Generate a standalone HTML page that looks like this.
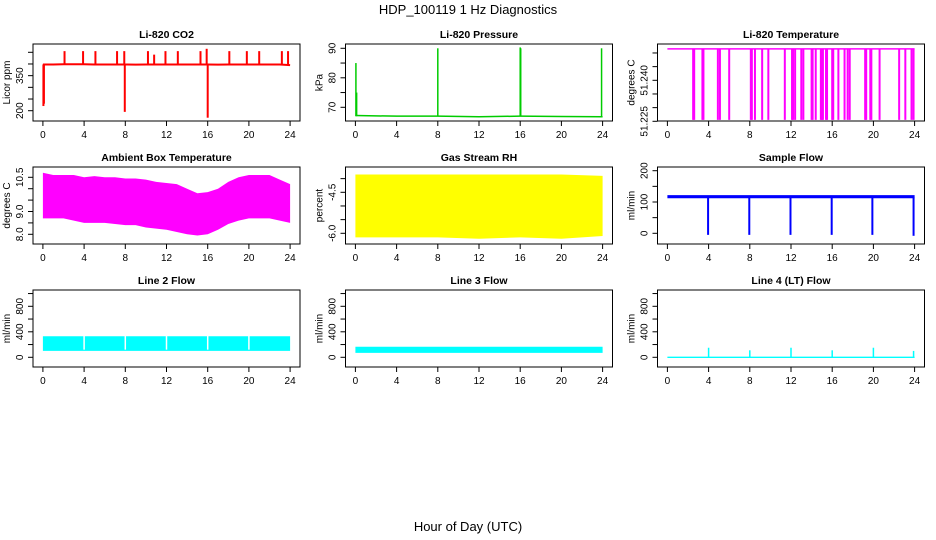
<!DOCTYPE html>
<html><head><meta charset="utf-8"><style>
body{margin:0;background:#fff}
svg{display:block;font-family:"Liberation Sans",sans-serif}
</style></head><body>
<svg id="c" width="936" height="540" viewBox="0 0 936 540" xmlns="http://www.w3.org/2000/svg">
<text x="468" y="14" text-anchor="middle" font-size="13">HDP_100119  1 Hz Diagnostics</text>
<text x="468" y="531" text-anchor="middle" font-size="13">Hour of Day (UTC)</text>
</svg>
<script>
// ---- data ----
const hourTicks = [0,4,8,12,16,20,24];
const co2Hours = [0,1,2,3,4,5,6,7,8,9,10,11,12,13,14,15,16,17,18,19,20,21,22,23,24];
const co2Base = [398,398,399,399,399,398,398,398,398,397,398,398,398,398,398,398,398,397,398,398,398,398,398,398,395];
const co2SpikeT = [0.05,0.1,2.1,3.9,5.1,7.2,7.9,7.95,10.2,10.8,11.9,13.1,15.3,15.9,16.0,18.1,19.8,21.0,23.2,23.8];
const co2SpikeV = [220,230,455,455,455,455,455,195,455,440,455,455,455,465,170,455,455,455,455,455];
const co2Ticks = [200,250,300,350,400,450];
const co2Labels = ["200","350"];
const presHours = [0,4,8,12,16,20,24];
const presBase = [67.2,67,67,66.8,67,66.9,66.8];
const presSpikeT = [0.05,0.12,8.0,16.0,16.05,23.9];
const presSpikeV = [85,75,90,90.3,90,90];
const presTicks = [70,75,80,85,90];
const presLabels = ["70","80","90"];
const tempTop = 51.2515;
const tempDropT = [2.5,2.6,3.4,3.5,4.9,5.1,6.0,8.1,8.2,8.5,9.2,9.8,11.4,12.1,12.2,12.4,13.0,13.2,14.0,14.1,14.4,14.9,15.0,15.1,15.4,15.5,16.0,16.1,16.6,17.2,17.5,17.7,19.2,19.3,19.7,19.8,20.6,22.5,23.1,23.7,23.9];
const tempDropV = 51.2255;
const tempTicks = [51.225,51.230,51.235,51.240,51.245,51.250];
const tempLabels = ["51.225","51.240"];
const ambHours = [0,1,2,3,4,5,6,7,8,9,10,11,12,13,14,15,16,17,18,19,20,21,22,23,24];
const ambUpper = [10.7,10.6,10.6,10.6,10.5,10.55,10.5,10.5,10.45,10.45,10.4,10.3,10.25,10.2,10.0,9.8,9.85,10.0,10.3,10.5,10.6,10.6,10.6,10.4,10.2];
const ambLower = [8.7,8.7,8.7,8.6,8.5,8.5,8.5,8.45,8.4,8.4,8.3,8.25,8.2,8.1,8.0,7.95,8.0,8.2,8.45,8.6,8.7,8.7,8.7,8.6,8.5];
const ambTicks = [8.0,8.5,9.0,9.5,10.0,10.5];
const ambLabels = ["8.0","9.0","10.5"];
const rhHours = [0,4,8,12,16,20,24];
const rhUpper = [-3.85,-3.85,-3.85,-3.85,-3.85,-3.85,-3.9];
const rhLower = [-6.15,-6.15,-6.15,-6.2,-6.15,-6.2,-6.1];
const rhTicks = [-6.0,-5.5,-5.0,-4.5,-4.0];
const rhLabels = ["-6.0","-4.5"];
const sfHours = [0,4,8,12,16,20,24];
const sfUpper = [122,122,122,122,122,122,122];
const sfLower = [112,112,112,112,112,112,112];
const sfDropT = [3.95,7.95,11.95,15.95,19.9,23.9];
const sfDropV = [-5,-5,-5,-5,-5,-8];
const sfTicks = [0,50,100,150,200];
const sfLabels = ["0","100","200"];
const flowTicks = [0,200,400,600,800,1000];
const flowLabels = ["0","400","800"];
const l2Upper = 330, l2Lower = 100;
const l3Upper = 165, l3Lower = 70;
const l4Upper = 10, l4Lower = -10;
const l2GapT = [4,8,12,16,20];
const l4SpikeT = [4,8,12,16,20,23.9];
const l4SpikeV = [150,110,150,110,150,100];

// ---- drawing ----
const NS="http://www.w3.org/2000/svg";
const svg=document.getElementById('c');
function mk(tag,attrs,parent){const e=document.createElementNS(NS,tag);for(const k in attrs)e.setAttribute(k,attrs[k]);(parent||svg).appendChild(e);return e;}
const colX=[33,345.5,657.5], rowY=[44,167,290], W=267, H=77;
function panel(name,col,row,title,ytitle,v1,p1,v2,p2,ticks,labels){
  const g=mk('g',{});
  
  
  const x0=colX[col], y0=rowY[row];
  const xs=t=>x0+9.9+t*10.3;
  const ys=v=>p1+(v-v1)*(p2-p1)/(v2-v1);
  const fr=mk('rect',{x:x0,y:y0,width:W,height:H,fill:'none',stroke:'#000','stroke-width':1},g);
  
  
  const tt=mk('text',{x:x0+W/2,y:y0-6,'text-anchor':'middle','font-size':10.5,'font-weight':'bold'},g);
  tt.textContent=title;
  
  
  const xa=mk('g',{},g);
  
  
  hourTicks.forEach(t=>{
    mk('line',{x1:xs(t),x2:xs(t),y1:y0+H,y2:y0+H+5,stroke:'#000'},xa);
    const l=mk('text',{x:xs(t),y:y0+H+17,'text-anchor':'middle','font-size':10},xa);l.textContent=t;
  });
  const ya=mk('g',{},g);
  
  
  ticks.forEach(v=>{const y=ys(v);mk('line',{x1:x0-5,x2:x0,y1:y,y2:y,stroke:'#000'},ya);});
  labels.forEach(s=>{const y=ys(parseFloat(s));const l=mk('text',{x:x0-10,y:y,'text-anchor':'middle','font-size':10,transform:`rotate(-90 ${x0-10} ${y})`},ya);l.textContent=s;});
  const yt=mk('text',{x:x0-23,y:y0+H/2,'text-anchor':'middle','font-size':10,transform:`rotate(-90 ${x0-23} ${y0+H/2})`},g);
  yt.textContent=ytitle;
  
  
  const clip='clip-'+name;
  const cp=mk('clipPath',{id:clip},g);mk('rect',{x:x0,y:y0,width:W,height:H},cp);
  const s=mk('g',{'clip-path':`url(#${clip})`},g);
  
  
  return {xs,ys,s};
}
function line(p,ts,vs,col,w){mk('polyline',{points:ts.map((t,i)=>p.xs(t)+','+p.ys(vs[i])).join(' '),fill:'none',stroke:col,'stroke-width':w||2},p.s);}
function band(p,ts,up,lo,col){const pts=ts.map((t,i)=>p.xs(t)+','+p.ys(up[i])).concat(ts.slice().reverse().map((t,j)=>{const i=ts.length-1-j;return p.xs(t)+','+p.ys(lo[i]);}));mk('polygon',{points:pts.join(' '),fill:col},p.s);}
function vline(p,t,a,b,col,w){mk('line',{x1:p.xs(t),x2:p.xs(t),y1:p.ys(a),y2:p.ys(b),stroke:col,'stroke-width':w||1.5},p.s);}

// CO2
let p=panel('co2',0,0,'Li-820 CO2','Licor ppm',450,52.3,200,110.7,co2Ticks,co2Labels);
line(p,co2Hours,co2Base,'#f00',2);
co2SpikeT.forEach((t,i)=>vline(p,t,398,co2SpikeV[i],'#f00',2));
// Pressure
p=panel('pressure',1,0,'Li-820 Pressure','kPa',90,48.3,70,107.3,presTicks,presLabels);
line(p,presHours,presBase,'#0c0',1.5);
presSpikeT.forEach((t,i)=>vline(p,t,67,presSpikeV[i],'#0c0',1.5));
// Temperature
p=panel('temperature',2,0,'Li-820 Temperature','degrees C',51.240,80.3,51.225,121.3,tempTicks,tempLabels);
line(p,[0,24],[tempTop,tempTop],'#f0f',1.5);
tempDropT.forEach(t=>vline(p,t,tempTop,tempDropV,'#f0f',2));
// Ambient
p=panel('ambient-temp',0,1,'Ambient Box Temperature','degrees C',10.5,177.3,8.0,234.3,ambTicks,ambLabels);
band(p,ambHours,ambUpper,ambLower,'#f0f');
// RH
p=panel('gas-rh',1,1,'Gas Stream RH','percent',-4.5,192.3,-6.0,233.3,rhTicks,rhLabels);
band(p,rhHours,rhUpper,rhLower,'#ff0');
// Sample flow
p=panel('sample-flow',2,1,'Sample Flow','ml/min',200,170.7,0,233.3,sfTicks,sfLabels);
band(p,sfHours,sfUpper,sfLower,'#00f');
sfDropT.forEach((t,i)=>vline(p,t,115,sfDropV[i],'#00f',2));
// Line 2
p=panel('line2-flow',0,2,'Line 2 Flow','ml/min',800,306.3,0,357.3,flowTicks,flowLabels);
band(p,[0,24],[l2Upper,l2Upper],[l2Lower,l2Lower],'#0ff');
l2GapT.forEach(t=>vline(p,t,l2Upper+5,l2Lower+20,'#fff',1.5));
// Line 3
p=panel('line3-flow',1,2,'Line 3 Flow','ml/min',800,306.3,0,357.3,flowTicks,flowLabels);
band(p,[0,24],[l3Upper,l3Upper],[l3Lower,l3Lower],'#0ff');
// Line 4
p=panel('line4-flow',2,2,'Line 4 (LT) Flow','ml/min',800,306.3,0,357.3,flowTicks,flowLabels);
band(p,[0,24],[l4Upper,l4Upper],[l4Lower,l4Lower],'#0ff');
l4SpikeT.forEach((t,i)=>vline(p,t,0,l4SpikeV[i],'#0ff',1.5));
</script>
</body></html>
